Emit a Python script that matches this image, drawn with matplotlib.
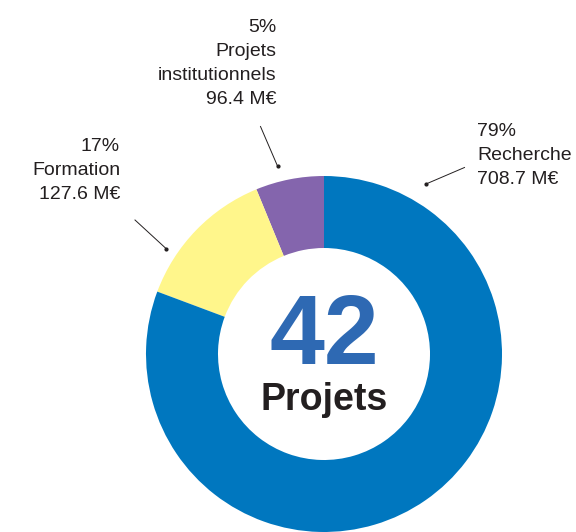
import matplotlib
matplotlib.use("Agg")
import matplotlib.pyplot as plt

# Data (slice shares as drawn, counterclockwise from 12 o'clock)
categories = ["Projets institutionnels", "Formation", "Recherche"]
shares = [6.2, 13.1, 80.7]
pct_labels = ["5%", "17%", "79%"]
amount_labels = ["96.4 M€", "127.6 M€", "708.7 M€"]
name_lines = [["Projets", "institutionnels"], ["Formation"], ["Recherche"]]
colors = ["#8465AD", "#FFF68B", "#0077BF"]
center_number = "42"
center_word = "Projets"

W, H = 576, 532
fig = plt.figure(figsize=(W / 100, H / 100), dpi=100)
ax = fig.add_axes([0, 0, 1, 1])

def Y(y):
    return H - y

cx, cy = 324, 354
r_out, r_in = 178, 106
ax.pie(shares, colors=colors, startangle=90, counterclock=True,
       radius=r_out, center=(cx, Y(cy)),
       wedgeprops=dict(width=r_out - r_in, linewidth=0))
ax.set_xlim(0, W)
ax.set_ylim(0, H)
ax.set_aspect("equal")
ax.axis("off")

txt_color = "#231F20"
font = "Liberation Sans"
fs = 14
lh = 24

# label layout: (x, first baseline, ha)
layout = [(276, 31.5, "right"), (120, 151, "right"), (477, 136.5, "left")]
leaders = [((260.5, 126.5), (277.5, 166)),
           ((135, 220), (166, 248.5)),
           ((464.5, 167.5), (426, 184))]

for i in range(3):
    x, b, ha = layout[i]
    lines = [pct_labels[i]] + name_lines[i] + [amount_labels[i]]
    for k, line in enumerate(lines):
        ax.text(x, Y(b + k * lh), line, ha=ha, va="baseline",
                fontsize=fs, color=txt_color, family=font)
    (x0, y0), (x1, y1) = leaders[i]
    ax.plot([x0, x1], [Y(y0), Y(y1)], color=txt_color, lw=0.7)
    ax.plot([x1], [Y(y1)], marker="o", ms=2, color=txt_color)

ax.text(cx, Y(363.5), center_number, ha="center", va="baseline",
        fontsize=71, fontweight="bold", color="#2E69B3", family=font)
ax.text(cx, Y(409.5), center_word, ha="center", va="baseline",
        fontsize=27, fontweight="bold", color=txt_color, family=font)

fig.savefig("out.png", dpi=100)
